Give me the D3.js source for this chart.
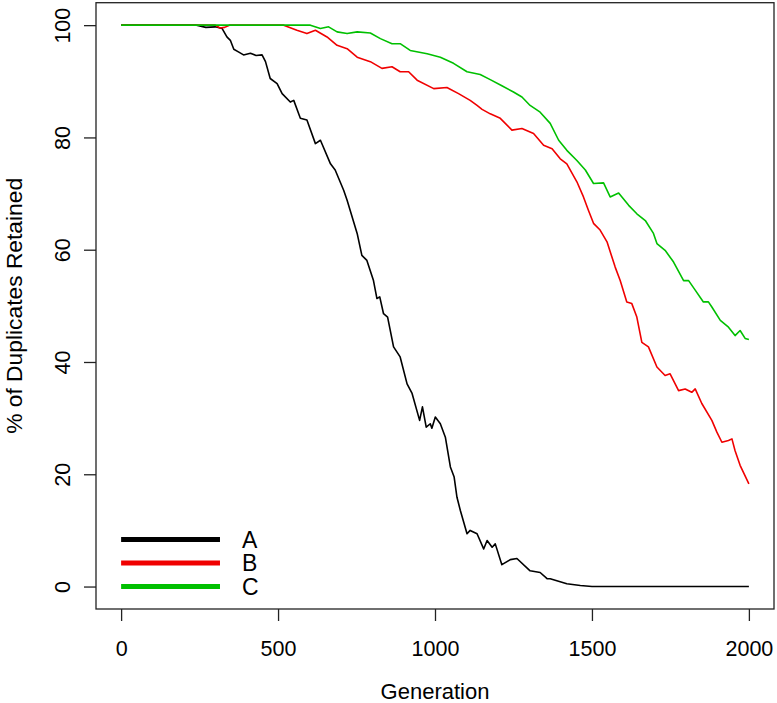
<!DOCTYPE html>
<html>
<head>
<meta charset="utf-8">
<script src="https://cdn.jsdelivr.net/npm/d3@7"></script>
<style>
  body { margin: 0; background: #fff; }
  svg { display: block; font-family: "Liberation Sans", Arial, Helvetica, sans-serif; }
</style>
</head>
<body>
<svg id="chart" width="777" height="703"></svg>
<script>
// values (generation, % retained)
const genA = [0, 240, 270, 300, 322, 337, 348, 359, 375, 390, 412, 430, 449, 460, 475, 497, 513, 539, 550, 571, 592, 619, 635, 667, 682, 709, 720, 752, 767, 783, 804, 815, 824, 836, 849, 868, 889, 911, 927, 951, 960, 972, 985, 990, 1001, 1017, 1033, 1049, 1061, 1070, 1081, 1102, 1112, 1134, 1155, 1166, 1182, 1192, 1213, 1240, 1261, 1303, 1335, 1357, 1367, 1420, 1463, 1500, 2000];
const pctA = [100, 100, 99.6, 99.7, 99.4, 97.9, 97.3, 95.7, 95.2, 94.7, 95.0, 94.6, 94.7, 93.5, 90.5, 89.6, 87.8, 86.3, 86.6, 83.4, 83.1, 78.9, 79.5, 75.3, 74.2, 70.6, 68.8, 62.9, 59.0, 58.1, 54.5, 51.3, 51.6, 48.6, 48.0, 42.7, 40.9, 36.1, 34.4, 29.6, 32.0, 28.4, 29.0, 28.2, 30.2, 29.0, 26.6, 21.3, 19.5, 15.9, 13.5, 9.4, 10.0, 9.4, 6.7, 8.2, 7.0, 7.6, 3.9, 4.8, 5.0, 2.8, 2.5, 1.4, 1.4, 0.5, 0.2, 0, 0];

const genB = [0, 300, 315, 330, 345, 518, 560, 592, 619, 656, 688, 720, 752, 794, 831, 863, 889, 916, 943, 996, 1038, 1075, 1112, 1134, 1150, 1176, 1208, 1245, 1277, 1314, 1346, 1373, 1399, 1420, 1452, 1473, 1489, 1505, 1526, 1548, 1574, 1590, 1611, 1627, 1643, 1659, 1680, 1707, 1733, 1749, 1776, 1797, 1818, 1829, 1850, 1882, 1898, 1914, 1935, 1946, 1956, 1972, 2000];
const pctB = [100, 100, 99.5, 99.6, 100, 100, 99.1, 98.5, 99.1, 97.9, 96.4, 95.8, 94.3, 93.5, 92.3, 92.6, 91.7, 91.7, 90.2, 88.7, 88.9, 87.8, 86.6, 85.7, 85.0, 84.2, 83.4, 81.3, 81.6, 80.7, 78.6, 78.0, 76.2, 75.3, 72.1, 69.4, 67.0, 64.7, 63.5, 61.4, 56.9, 54.5, 50.7, 50.4, 48.0, 43.5, 42.7, 39.1, 37.6, 37.9, 34.9, 35.2, 34.6, 35.2, 32.6, 29.6, 27.5, 25.7, 26.0, 26.3, 24.2, 21.6, 18.3];

const genC = [0, 603, 635, 661, 688, 720, 752, 794, 826, 863, 889, 921, 975, 1017, 1059, 1102, 1144, 1176, 1213, 1250, 1277, 1303, 1335, 1367, 1394, 1420, 1452, 1479, 1505, 1537, 1558, 1585, 1617, 1643, 1670, 1696, 1707, 1733, 1760, 1792, 1808, 1829, 1855, 1871, 1882, 1909, 1935, 1956, 1972, 1988, 2000];
const pctC = [100, 100, 99.4, 99.7, 98.8, 98.5, 98.8, 98.6, 97.6, 96.7, 96.7, 95.5, 94.9, 94.3, 93.2, 91.7, 91.2, 90.3, 89.2, 88.1, 87.2, 85.7, 84.5, 82.5, 79.5, 77.7, 75.9, 74.2, 71.8, 71.9, 69.4, 70.1, 67.9, 66.4, 65.2, 62.9, 61.1, 59.9, 57.8, 54.5, 54.5, 52.8, 50.7, 50.7, 49.8, 47.4, 46.2, 44.7, 45.6, 44.2, 44.0];

const seriesNames = ["A", "B", "C"];
const seriesColors = ["#000000", "#f00000", "#00c000"];
const xTicks = [0, 500, 1000, 1500, 2000];
const yTicks = [0, 20, 40, 60, 80, 100];

const svg = d3.select("#chart");

// plot region, R style 4% padding on both axes
const box = {left: 96, right: 774, top: 2.7, bottom: 609};
const xScale = d3.scaleLinear().domain([-80, 2080]).range([box.left, box.right]);
const yScale = d3.scaleLinear().domain([-4, 104]).range([box.bottom, box.top]);

const series = [
    {name: seriesNames[0], gen: genA, pct: pctA},
    {name: seriesNames[1], gen: genB, pct: pctB},
    {name: seriesNames[2], gen: genC, pct: pctC}
];

const genLine = d3.line()
    .x(d => xScale(d[0]))
    .y(d => yScale(d[1]));

svg.append("g")
    .attr("fill", "none")
    .attr("stroke-width", 1.6)
    .attr("stroke-linejoin", "round")
  .selectAll("path")
  .data(series)
  .enter()
  .append("path")
    .attr("stroke", (d, i) => seriesColors[i])
    .attr("d", d => genLine(d.gen.map((g, j) => [g, d.pct[j]])));

// box around plot
svg.append("rect")
    .attr("x", box.left)
    .attr("y", box.top)
    .attr("width", box.right - box.left)
    .attr("height", box.bottom - box.top)
    .attr("fill", "none")
    .attr("stroke", "#222")
    .attr("stroke-width", 1.3);

// x axis
const xaxis = svg.append("g")
    .attr("transform", `translate(0, ${box.bottom})`)
    .call(d3.axisBottom(xScale).tickValues(xTicks).tickFormat(d3.format("d"))
        .tickSize(12).tickPadding(20).tickSizeOuter(0));
xaxis.select(".domain").remove();
xaxis.selectAll("line").attr("stroke", "#222").attr("stroke-width", 1.3);
xaxis.selectAll("text")
    .attr("font-size", 21.5)
    .attr("font-family", null)
    .attr("fill", "#000");

// y axis, labels rotated like R's las=0
const yaxis = svg.append("g")
    .attr("transform", `translate(${box.left}, 0)`)
    .call(d3.axisLeft(yScale).tickValues(yTicks).tickSize(12).tickSizeOuter(0));
yaxis.select(".domain").remove();
yaxis.selectAll("line").attr("stroke", "#222").attr("stroke-width", 1.3);
yaxis.selectAll("text")
    .attr("font-size", 21.5)
    .attr("font-family", null)
    .attr("fill", "#000")
    .attr("x", null)
    .attr("dy", null)
    .attr("text-anchor", "middle")
    .attr("transform", `translate(${70 - box.left}, 0) rotate(-90)`);

// axis titles
svg.append("text")
    .attr("x", xScale(1000))
    .attr("y", 699)
    .attr("text-anchor", "middle")
    .attr("font-size", 22)
    .text("Generation");

svg.append("text")
    .attr("transform", `translate(22, ${(box.top + box.bottom) / 2}) rotate(-90)`)
    .attr("text-anchor", "middle")
    .attr("font-size", 22.8)
    .text("% of Duplicates Retained");

// legend
const legend = svg.append("g")
  .selectAll("g")
  .data(seriesNames)
  .enter()
  .append("g")
    .attr("transform", (d, i) => `translate(0, ${yScale(0) - 47 + i * 23.5})`);

legend.append("line")
    .attr("x1", xScale(0))
    .attr("x2", xScale(315))
    .attr("stroke", (d, i) => seriesColors[i])
    .attr("stroke-width", 5);

legend.append("text")
    .attr("x", 242)
    .attr("dy", "0.36em")
    .attr("font-size", 23)
    .text(d => d);
</script>
</body>
</html>
